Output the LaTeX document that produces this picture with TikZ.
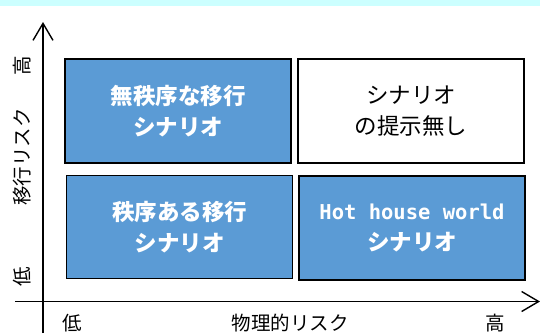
\documentclass[tikz,border=0pt]{standalone}
\usepackage{fontspec}
\setmainfont{Noto Sans CJK JP}
\newfontfamily\monof{DejaVu Sans Mono}
\usetikzlibrary{arrows.meta}
\definecolor{band}{HTML}{CCFFFF}
\definecolor{boxblue}{HTML}{5B9BD5}
\tikzset{
  quad/.style={draw=black, line width=1.8pt, minimum width=#1, align=center},
  bluequad/.style={quad=226pt, fill=boxblue, text=white, font=\fontsize{22.5}{31}\selectfont\bfseries},
  whitequad/.style={quad=226pt, fill=white, text=black, font=\fontsize{22.5}{31}\selectfont},
  axis/.style={line width=1.4pt, -{Straight Barb[length=17pt,width=20pt,line width=1.4pt]}},
  axlabel/.style={font=\fontsize{19.5}{20}\selectfont, inner sep=0pt}
}
\begin{document}
\begin{tikzpicture}[x=1pt,y=-1pt]
\useasboundingbox (0,0) rectangle (540,333);
\fill[band] (0,0) rectangle (540,6);
\node[bluequad, minimum height=104pt] (q1) at (178,111) {無秩序な移行\\シナリオ};
\node[whitequad, minimum height=104pt] (q2) at (411,111) {シナリオ\\の提示無し};
\node[bluequad, minimum height=103pt] (q3) at (179.5,227) {秩序ある移行\\シナリオ};
\node[bluequad, minimum height=104pt] (q4) at (412,228) {{\monof\fontsize{20.5}{31}\selectfont Hot house world}\\シナリオ};
\coordinate (ybot) at (43,333);
\coordinate (ytop) at (43,22);
\coordinate (xl) at (15,301.5);
\coordinate (xr) at (540,301.5);
\draw[axis] (ybot) -- (ytop);
\draw[axis] (xl) -- (xr);
\node[axlabel, rotate=90] (yhi) at (22,66) {高};
\node[axlabel, rotate=90] (ylab) at (22,157) {移行リスク};
\node[axlabel, rotate=90] (ylo) at (22,277) {低};
\node[axlabel] (xlo) at (72,323) {低};
\node[axlabel] (xlab) at (290,323) {物理的リスク};
\node[axlabel] (xhi) at (495,323) {高};
\end{tikzpicture}
\end{document}
